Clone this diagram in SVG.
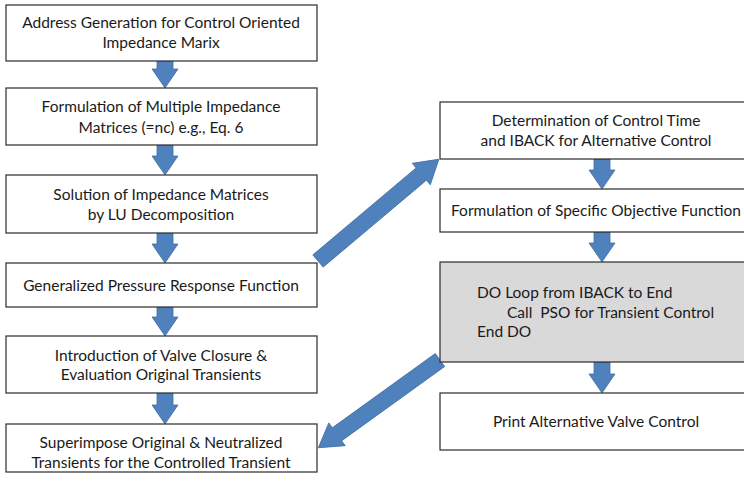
<svg xmlns="http://www.w3.org/2000/svg" width="744" height="484" viewBox="0 0 744 484">
<style>
.box{fill:#ffffff;stroke:#2b2b2b;stroke-width:1.2}
.gray{fill:#d9d9d9;stroke:#2b2b2b;stroke-width:1.2}
.t{font-family:Lato,"Open Sans",sans-serif;font-size:15.5px;fill:#1a1a1a}
.c{text-anchor:middle}
.arr{fill:#4f81bd;stroke:#41709f;stroke-width:0.8}
</style>
<rect width="744" height="484" fill="#ffffff"/>
<g id="connectors">
<path class="arr" d="M157,61 L173,61 L173,69 L178,69 L165,88 L152,69 L157,69 Z"/>
<path class="arr" d="M157,145 L173,145 L173,156 L178,156 L165,175 L152,156 L157,156 Z"/>
<path class="arr" d="M157,233 L173,233 L173,244 L178,244 L165,263 L152,244 L157,244 Z"/>
<path class="arr" d="M157,307 L173,307 L173,317 L178,317 L165,336 L152,317 L157,317 Z"/>
<path class="arr" d="M157,393 L173,393 L173,405 L178,405 L165,424 L152,405 L157,405 Z"/>
<path class="arr" d="M594,159 L610,159 L610,170 L615,170 L602,189 L589,170 L594,170 Z"/>
<path class="arr" d="M594,232 L610,232 L610,243 L615,243 L602,262 L589,243 L594,243 Z"/>
<path class="arr" d="M594,362 L610,362 L610,374 L615,374 L602,393 L589,374 L594,374 Z"/>
<path class="arr" transform="translate(318,261) rotate(-40.1)" d="M0,-8 L135,-8 L135,-14 L158,0 L135,14 L135,8 L0,8 Z"/>
<path class="arr" transform="translate(440,360) rotate(144.2)" d="M0,-8 L127,-8 L127,-14 L150,0 L127,14 L127,8 L0,8 Z"/>
</g>
<g id="n1"><rect class="box" x="6" y="5" width="311" height="56"/>
<text class="t c" x="161" y="28">Address Generation for Control Oriented</text>
<text class="t c" x="161" y="48">Impedance Marix</text></g>
<g id="n2"><rect class="box" x="6" y="88" width="311" height="57"/>
<text class="t c" x="161" y="112">Formulation of Multiple Impedance</text>
<text class="t c" x="161" y="133">Matrices (=nc) e.g., Eq. 6</text></g>
<g id="n3"><rect class="box" x="6" y="175" width="311" height="58"/>
<text class="t c" x="161" y="200">Solution of Impedance Matrices</text>
<text class="t c" x="161" y="220">by LU Decomposition</text></g>
<g id="n4"><rect class="box" x="6" y="263" width="311" height="44"/>
<text class="t c" x="161" y="291">Generalized Pressure Response Function</text></g>
<g id="n5"><rect class="box" x="6" y="336" width="311" height="57"/>
<text class="t c" x="161" y="361">Introduction of Valve Closure &amp;</text>
<text class="t c" x="161" y="380">Evaluation Original Transients</text></g>
<g id="n6"><rect class="box" x="6" y="424" width="311" height="48"/>
<text class="t c" x="161" y="448">Superimpose Original &amp; Neutralized</text>
<text class="t c" x="161" y="468">Transients for the Controlled Transient</text></g>
<g id="r1"><rect class="box" x="440" y="102" width="310" height="57"/>
<text class="t c" x="596" y="126">Determination of Control Time</text>
<text class="t c" x="596" y="146">and IBACK for Alternative Control</text></g>
<g id="r2"><rect class="box" x="440" y="189" width="310" height="43"/>
<text class="t c" x="596" y="216">Formulation of Specific Objective Function</text></g>
<g id="r3"><rect class="gray" x="440" y="262" width="310" height="100"/>
<text class="t" x="477" y="298">DO Loop from IBACK to End</text>
<text class="t" x="507" y="318" xml:space="preserve">Call  PSO for Transient Control</text>
<text class="t" x="477" y="337">End DO</text></g>
<g id="r4"><rect class="box" x="440" y="393" width="310" height="57"/>
<text class="t c" x="596" y="427">Print Alternative Valve Control</text></g>
</svg>
